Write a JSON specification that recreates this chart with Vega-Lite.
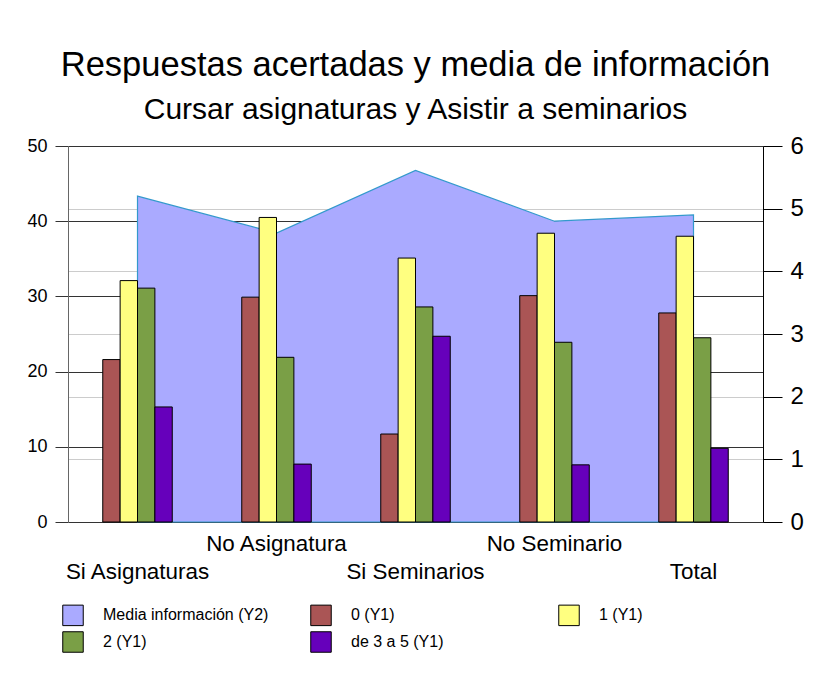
{
  "$schema": "https://vega.github.io/schema/vega-lite/v6.json",
  "width": 695,
  "height": 376,
  "autosize": {"type": "none"},
  "padding": {"left": 68, "top": 146, "right": 65, "bottom": 151},
  "background": "white",
  "config": {
    "font": "Liberation Sans",
    "view": {"stroke": null},
    "axis": {"labelColor": "black", "labelFont": "Liberation Sans"}
  },
  "title": {
    "text": "Respuestas acertadas y media de información",
    "subtitle": "Cursar asignaturas y Asistir a seminarios",
    "fontSize": 34.5,
    "fontWeight": "normal",
    "subtitleFontSize": 30,
    "subtitleColor": "black",
    "color": "black",
    "subtitlePadding": 12,
    "offset": 8,
    "anchor": "middle"
  },
  "datasets": {
    "bars": [
      {"grupo": "Si Asignaturas", "serie": "0 (Y1)", "valor": 21.6},
      {"grupo": "Si Asignaturas", "serie": "1 (Y1)", "valor": 32.1},
      {"grupo": "Si Asignaturas", "serie": "2 (Y1)", "valor": 31.1},
      {"grupo": "Si Asignaturas", "serie": "de 3 a 5 (Y1)", "valor": 15.3},
      {"grupo": "No Asignatura", "serie": "0 (Y1)", "valor": 29.9},
      {"grupo": "No Asignatura", "serie": "1 (Y1)", "valor": 40.5},
      {"grupo": "No Asignatura", "serie": "2 (Y1)", "valor": 21.9},
      {"grupo": "No Asignatura", "serie": "de 3 a 5 (Y1)", "valor": 7.7},
      {"grupo": "Si Seminarios", "serie": "0 (Y1)", "valor": 11.7},
      {"grupo": "Si Seminarios", "serie": "1 (Y1)", "valor": 35.1},
      {"grupo": "Si Seminarios", "serie": "2 (Y1)", "valor": 28.6},
      {"grupo": "Si Seminarios", "serie": "de 3 a 5 (Y1)", "valor": 24.7},
      {"grupo": "No Seminario", "serie": "0 (Y1)", "valor": 30.1},
      {"grupo": "No Seminario", "serie": "1 (Y1)", "valor": 38.4},
      {"grupo": "No Seminario", "serie": "2 (Y1)", "valor": 23.9},
      {"grupo": "No Seminario", "serie": "de 3 a 5 (Y1)", "valor": 7.6},
      {"grupo": "Total", "serie": "0 (Y1)", "valor": 27.8},
      {"grupo": "Total", "serie": "1 (Y1)", "valor": 38.0},
      {"grupo": "Total", "serie": "2 (Y1)", "valor": 24.5},
      {"grupo": "Total", "serie": "de 3 a 5 (Y1)", "valor": 9.8}
    ],
    "media": [
      {"grupo": "Si Asignaturas", "serie": "Media información (Y2)", "media": 5.2},
      {"grupo": "No Asignatura", "serie": "Media información (Y2)", "media": 4.61},
      {"grupo": "Si Seminarios", "serie": "Media información (Y2)", "media": 5.61},
      {"grupo": "No Seminario", "serie": "Media información (Y2)", "media": 4.8},
      {"grupo": "Total", "serie": "Media información (Y2)", "media": 4.9}
    ]
  },
  "encoding": {
    "x": {
      "field": "grupo",
      "type": "nominal",
      "sort": ["Si Asignaturas", "No Asignatura", "Si Seminarios", "No Seminario", "Total"],
      "scale": {"paddingInner": 0.5, "paddingOuter": 0.25},
      "axis": {
        "title": null,
        "ticks": false,
        "tickSize": 0,
        "domain": false,
        "labelAngle": 0,
        "labelFontSize": 22.4,
        "labelPadding": 10,
        "labelLineHeight": 28,
        "labelExpr": "indexof(['Si Asignaturas','Si Seminarios','Total'], datum.value) >= 0 ? [' ', datum.label] : datum.label"
      }
    }
  },
  "layer": [
    {
      "data": {"name": "media"},
      "mark": {"type": "area", "stroke": "#3399cc", "strokeWidth": 1.2, "opacity": 1},
      "encoding": {
        "y": {
          "field": "media",
          "type": "quantitative",
          "scale": {"domain": [0, 6], "nice": false},
          "axis": {
            "orient": "right",
            "title": null,
            "values": [0, 1, 2, 3, 4, 5, 6],
            "grid": true,
            "gridColor": "#cccccc",
            "gridWidth": 1,
            "tickSize": 19,
            "tickColor": "black",
            "domainColor": "black",
            "labelFontSize": 24,
            "labelPadding": 8
          }
        },
        "color": {
          "field": "serie",
          "type": "nominal",
          "scale": {
            "domain": ["Media información (Y2)", "0 (Y1)", "1 (Y1)", "2 (Y1)", "de 3 a 5 (Y1)"],
            "range": ["#aaaaff", "#aa5555", "#ffff80", "#7a9f46", "#6600bb"]
          },
          "legend": {
            "title": null,
            "orient": "none",
            "legendX": -6,
            "legendY": 458,
            "direction": "horizontal",
            "columns": 3,
            "gridAlign": "all",
            "columnPadding": 39,
            "rowPadding": 1,
            "padding": 0,
            "symbolType": "square",
            "symbolSize": 420,
            "symbolStrokeColor": "#333333",
            "symbolStrokeWidth": 1,
            "symbolOpacity": 1,
            "labelFontSize": 16,
            "labelOffset": 19,
            "labelLimit": 300,
            "labelColor": "black",
            "labelFont": "Liberation Sans"
          }
        }
      }
    },
    {
      "data": {"name": "bars"},
      "mark": {"type": "bar", "stroke": "black", "strokeWidth": 1},
      "encoding": {
        "xOffset": {
          "field": "serie",
          "type": "nominal",
          "sort": ["0 (Y1)", "1 (Y1)", "2 (Y1)", "de 3 a 5 (Y1)"],
          "scale": {"paddingInner": 0, "paddingOuter": 0}
        },
        "y": {
          "field": "valor",
          "type": "quantitative",
          "scale": {"domain": [0, 50], "nice": false},
          "axis": {
            "orient": "left",
            "title": null,
            "values": [0, 10, 20, 30, 40, 50],
            "grid": true,
            "gridColor": "#333333",
            "gridWidth": 1,
            "tickSize": 13,
            "tickColor": "#333333",
            "domainColor": "#666666",
            "labelFontSize": 18,
            "labelPadding": 8
          }
        },
        "color": {"field": "serie", "type": "nominal"}
      }
    }
  ],
  "resolve": {"scale": {"y": "independent"}}
}
